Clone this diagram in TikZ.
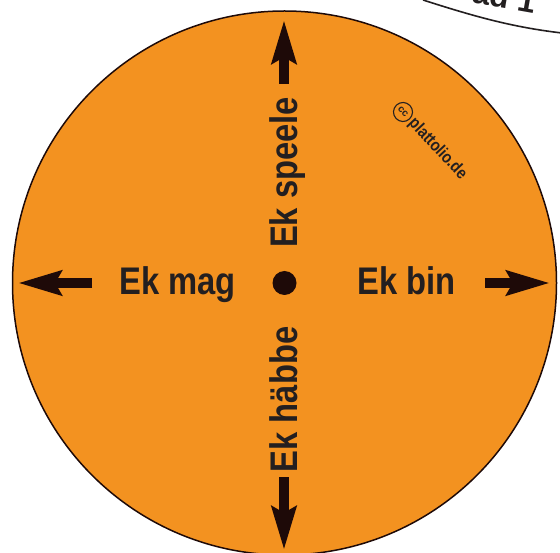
\documentclass[tikz,border=0pt]{standalone}
\usepackage{fontspec}
\setmainfont{Liberation Sans}
\newfontfamily\condfont{Liberation Sans}[FakeStretch=0.85]
\usetikzlibrary{arrows.meta}
\definecolor{wheel}{HTML}{F39220}
\definecolor{ink}{HTML}{231F20}
\definecolor{arrowink}{HTML}{1E0A08}
\tikzset{
  label text/.style={font=\condfont\bfseries\fontsize{38.5}{38.5}\selectfont, text=ink, inner sep=0pt},
  dir arrow/.style={draw=arrowink, line width=9.5pt, -{Stealth[length=43pt,width=24pt,inset=6pt]}},
  ccmark/.style={circle, draw=ink, line width=1.1pt, inner sep=0pt, minimum size=19pt, font=\bfseries\fontsize{10}{10}\selectfont, text=ink},
  web text/.style={font=\condfont\bfseries\fontsize{17}{17}\selectfont, text=ink, inner sep=0.5pt},
}
\begin{document}
\begin{tikzpicture}[x=1pt,y=-1pt]
\useasboundingbox (0,0) rectangle (560,553);
% neighbouring wheel rim (top right)
\coordinate (rimA) at (423,0);
\coordinate (rimB) at (562,33);
\draw[ink, line width=1.6pt] (rimA) .. controls (470,15) and (510,27) .. (rimB);
\node[font=\bfseries\fontsize{32}{32}\selectfont, text=ink, inner sep=0pt, anchor=base west, rotate=-10] (rimtext) at (471,2) {ad 1};
% wheel
\coordinate (c) at (284.5,283);
\filldraw[fill=wheel, draw=arrowink, line width=1.5pt] (c) circle[radius=272];
\fill[arrowink] (c) circle[radius=12];
% labels
\node[label text, anchor=base] (mag) at (177.5,295) {Ek mag};
\node[label text, anchor=base] (bin) at (406.5,295) {Ek bin};
\node[label text, anchor=base, rotate=90] (speele) at (297,172.5) {Ek speele};
\node[label text, anchor=base, rotate=90] (haebbe) at (297,399.5) {Ek häbbe};
% arrows
\coordinate (lS) at (92,283);  \coordinate (lT) at (18,283);
\coordinate (rS) at (485,283); \coordinate (rT) at (550,283);
\coordinate (tS) at (284,84);  \coordinate (tT) at (284,20);
\coordinate (bS) at (284,477); \coordinate (bT) at (284,550);
\draw[dir arrow] (lS) -- (lT);
\draw[dir arrow] (rS) -- (rT);
\draw[dir arrow] (tS) -- (tT);
\draw[dir arrow] (bS) -- (bT);
% copyright mark
\node[ccmark, rotate=-47] (cc) at (403,112) {cc};
\node[web text, rotate=-47, anchor=west] (web) at ([xshift=1pt,yshift=-1pt]cc.east) {plattolio.de};
\end{tikzpicture}
\end{document}
